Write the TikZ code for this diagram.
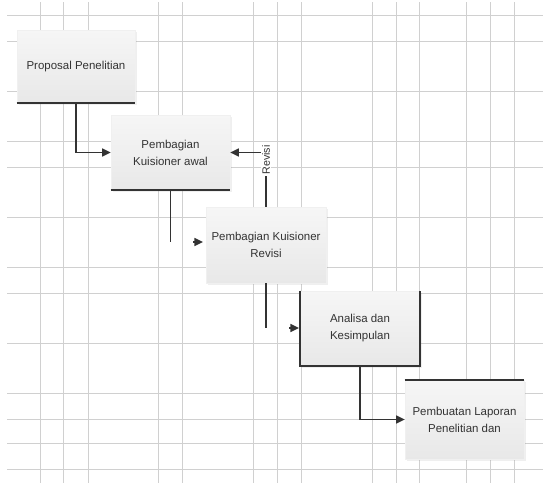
\documentclass[tikz,border=0pt]{standalone}
\usepackage{fontspec}
\setmainfont{Liberation Sans}
\usetikzlibrary{arrows.meta,shadows,calc}
\definecolor{gridc}{HTML}{D0D0D0}
\definecolor{ink}{HTML}{333333}
\definecolor{boxtop}{HTML}{F6F6F6}
\definecolor{boxbot}{HTML}{E8E8E8}
\begin{document}
\begin{tikzpicture}[x=0.75pt,y=-0.75pt,
 gridline/.style={draw=gridc,line width=0.7pt},
 procbox/.style={rectangle,top color=boxtop,bottom color=boxbot,draw=black!6,inner sep=2pt,align=center,text=ink,
   font=\fontsize{8.6}{12.75}\selectfont,
   drop shadow={opacity=0.12,shadow xshift=1.5pt,shadow yshift=-1.5pt}},
 edgeline/.style={draw=ink,line width=1.5pt},
 conn/.style={draw=ink,line width=1.2pt},
 arr/.style={conn,-{Triangle[length=6.5pt,width=6pt]}},
 lbl/.style={fill=white,inner sep=1pt,text=ink,font=\fontsize{8}{9}\selectfont,rotate=90}]
\fill[white] (0,0) rectangle (543,483);
\useasboundingbox (0,0) rectangle (543,483);
% grid
\foreach \x in {40,63,88,158,182,253,277,301,372,396,419,466,490,514}
  \draw[gridline] (\x,2) -- (\x,483);
\foreach \y in {15,41,91,141,167,217,267,293,343,393,419,443,469}
  \draw[gridline] (7,\y) -- (543,\y);
% boxes
\node[procbox,minimum width=88.5pt,minimum height=54.75pt] (b1) at (76,66.5) {Proposal Penelitian};
\node[procbox,minimum width=89.25pt,minimum height=56.25pt] (b2) at (170.5,152.5) {Pembagian\\Kuisioner awal};
\node[procbox,minimum width=90pt,minimum height=57pt] (b3) at (266,245) {Pembagian Kuisioner\\Revisi};
\node[procbox,minimum width=90pt,minimum height=56.25pt] (b4) at (360,328.5) {Analisa dan\\Kesimpulan};
\node[procbox,minimum width=89.25pt,minimum height=59.25pt] (b5) at (464.5,419.5) {Pembuatan Laporan\\Penelitian dan};
% dark edges
\draw[edgeline] (b1.south west) -- (b1.south east);
\draw[edgeline] (b2.south west) -- (b2.south east);
\draw[edgeline] (b4.north west) -- (b4.south west) -- (b4.south east) -- (b4.north east);
\draw[edgeline] (b5.north west) -- (b5.north east);
% connectors
\draw[arr] (b1.south) |- (b2.west);
\coordinate (k2) at (170.5,242);
\draw[conn] (b2.south) -- (k2);
\coordinate (t2) at (193,242);
\coordinate (h2) at (203,242);
\draw[arr] (t2) -- (h2);
\coordinate (r1) at (266,152.5);
\draw[arr] (b3.north) -- (r1) -- (b2.east);
\node[lbl] (rv) at (266,160) {Revisi};
\coordinate (k4) at (266,328);
\draw[conn] (b3.south) -- (k4);
\coordinate (t4) at (289,328);
\coordinate (h4) at (299,328);
\draw[arr] (t4) -- (h4);
\draw[arr] (b4.south) |- (b5.west);
\end{tikzpicture}
\end{document}
